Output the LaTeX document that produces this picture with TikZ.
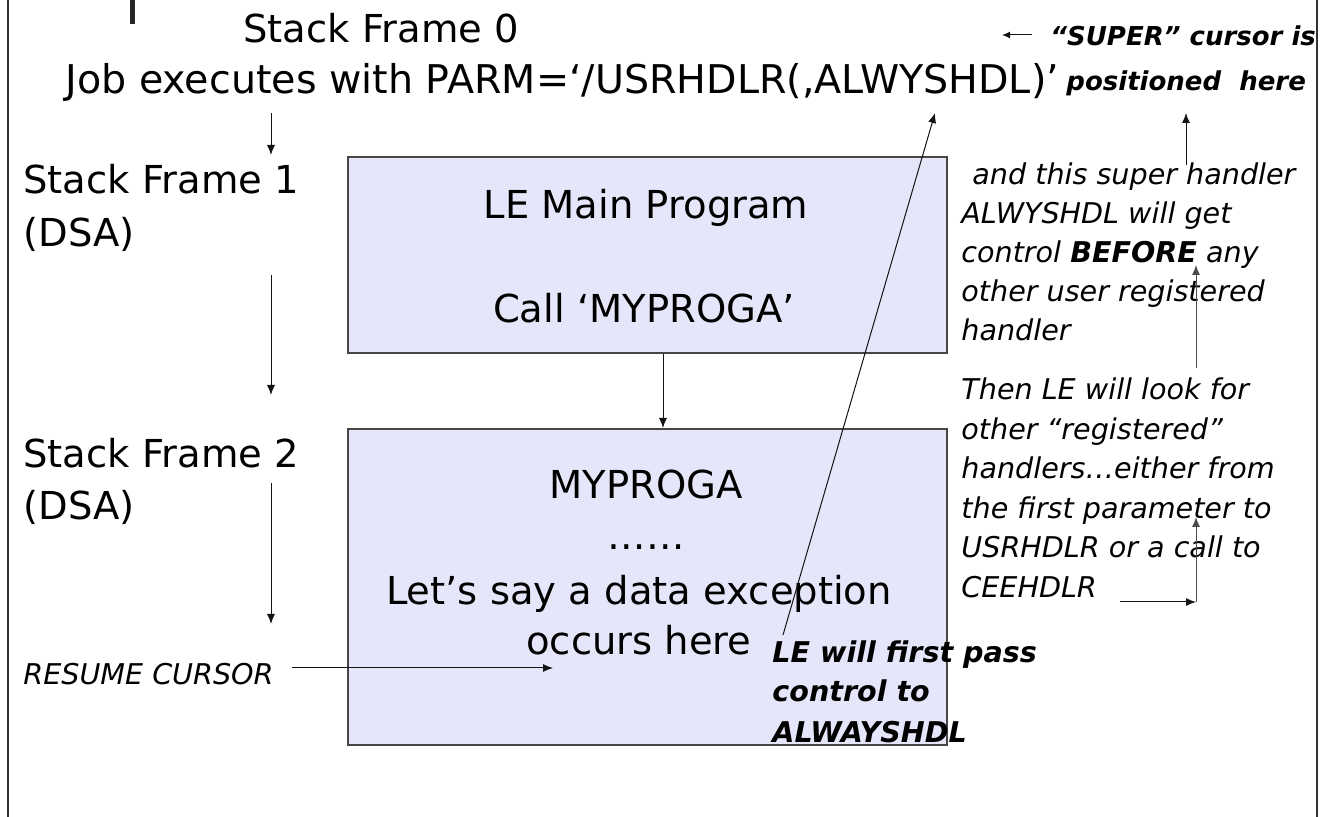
\documentclass[tikz,border=0pt]{standalone}
\usepackage{fontspec}
\setmainfont{DejaVu Sans}
\usetikzlibrary{arrows.meta}
\definecolor{boxfill}{RGB}{230,230,250}
\definecolor{boxline}{RGB}{70,70,70}
\definecolor{inkline}{RGB}{20,20,20}

\begin{document}
\begin{tikzpicture}[x=0.5pt,y=-0.5pt,
  big/.style={font=\fontsize{19.25}{26}\selectfont, inner sep=0pt},
  note/.style={font=\fontsize{14.3}{20}\selectfont\itshape, inner sep=0pt, anchor=base west},
  strong/.style={font=\fontsize{14.3}{20}\selectfont\bfseries\itshape, inner sep=0pt, anchor=base west},
  smallstrong/.style={strong, font=\fontsize{13}{18}\selectfont\bfseries\itshape},
  framebox/.style={draw=boxline, fill=boxfill, line width=0.8pt, minimum width=299.5pt, inner sep=0pt, anchor=north west},
  arr/.style={draw=inkline, -{Latex[length=5pt,width=4pt]}, line width=0.5pt},
  grayarr/.style={arr, draw=black!70},
]
\useasboundingbox (0,0) rectangle (1323,817);

% page side rules and the little bar at the top
\draw[line width=0.6pt, black!80] (8,0) -- (8,817);
\draw[line width=0.6pt, black!80] (1317,0) -- (1317,817);
\fill[black!85] (129.5,0) rectangle (134.5,24);

% heading
\node[big, anchor=base west] (sf0) at (243,43) {Stack Frame 0};
\node[big, anchor=base west, font=\fontsize{19.8}{26}\selectfont] (job) at (65,94) {Job executes with PARM=‘/USRHDLR(,ALWYSHDL)’};

% left column: stack frames
\node[big, anchor=base west] (sf1) at (23,194) {Stack Frame 1};
\node[big, anchor=base west] (dsa1) at (23,247) {(DSA)};
\node[big, anchor=base west] (sf2) at (23,468) {Stack Frame 2};
\node[big, anchor=base west] (dsa2) at (23,520) {(DSA)};
\node[note] (rc) at (23,685) {RESUME CURSOR};

\coordinate (d1a) at (271,113); \coordinate (d1b) at (271,155);
\coordinate (d2a) at (271,275); \coordinate (d2b) at (271,395);
\coordinate (d3a) at (271,483); \coordinate (d3b) at (271,624);
\draw[arr] (d1a) -- (d1b);
\draw[arr] (d2a) -- (d2b);
\draw[arr] (d3a) -- (d3b);

% program boxes
\node[framebox, minimum height=98pt] (box1) at (347,156) {};
\node[framebox, minimum height=158pt] (box2) at (347,428) {};

\node[big, anchor=base] (b1a) at (646,219) {LE Main Program};
\node[big, anchor=base] (b1b) at (644,323) {Call ‘MYPROGA’};
\node[big, anchor=base] (b2a) at (646,499) {MYPROGA};
\node[big, anchor=base] (b2b) at (646,550) {……};
\node[big, anchor=base] (b2c) at (639,605) {Let’s say a data exception};
\node[big, anchor=base] (b2d) at (639,655) {occurs here};

\coordinate (callx) at (663,0);
\draw[arr] (box1.south -| callx) -- (box2.north -| callx);

% resume cursor pointer
\coordinate (rca) at (292,668); \coordinate (rcb) at (553,668);
\draw[arr] (rca) -- (rcb);

% first pass to the super handler
\coordinate (pa) at (783,635); \coordinate (pb) at (935,113);
\draw[arr] (pa) -- (pb);
\node[strong] (lf1) at (772,663) {LE will first pass};
\node[strong] (lf2) at (772,702) {control to};
\node[strong] (lf3) at (772,742) {ALWAYSHDL};

% super cursor
\node[smallstrong] (sc1) at (1050,46) {“SUPER” cursor is};
\node[smallstrong] (sc2) at (1066,91) {positioned\ \ here};
\coordinate (sca) at (1032,35); \coordinate (scb) at (1002,35);
\draw[arr, -{Latex[length=4pt,width=3.4pt]}] (sca) -- (scb);
\coordinate (upa) at (1186,165); \coordinate (upb) at (1186,113);
\draw[arr] (upa) -- (upb);

% right column notes
\node[note] (n1) at (972,185) {and this super handler};
\node[note] (n2) at (961,224) {ALWYSHDL will get};
\node[note] (n3) at (961,263) {control \textbf{BEFORE} any};
\node[note] (n4) at (961,302) {other user registered};
\node[note] (n5) at (961,341) {handler};
\node[note] (n6) at (961,400) {Then LE will look for};
\node[note] (n7) at (961,440) {other “registered”};
\node[note] (n8) at (961,479) {handlers…either from};
\node[note] (n9) at (961,519) {the first parameter to};
\node[note] (n10) at (961,558) {USRHDLR or a call to};
\node[note] (n11) at (961,598) {CEEHDLR};

\coordinate (va) at (1196,368); \coordinate (vb) at (1196,265);
\draw[grayarr] (va) -- (vb);
\coordinate (ha) at (1120,602); \coordinate (hb) at (1196,602);
\coordinate (hc) at (1196,517);
\draw[arr] (ha) -- (hb);
\draw[grayarr] (hb) -- (hc);
\end{tikzpicture}
\end{document}
